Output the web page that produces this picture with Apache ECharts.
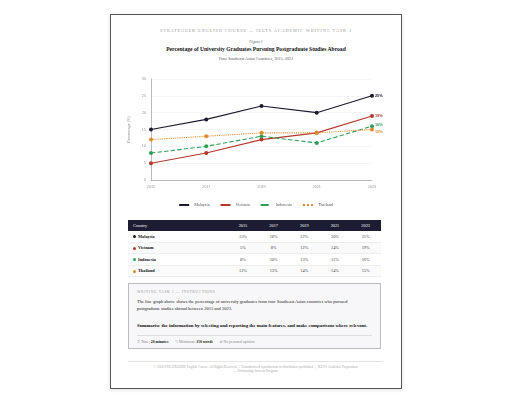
<!DOCTYPE html>
<html><head><meta charset="utf-8">
<script src="https://cdn.jsdelivr.net/npm/echarts@6/dist/echarts.min.js"></script>
<style>
html,body{margin:0;padding:0;background:#fff;width:512px;height:403px;overflow:hidden;font-family:"Liberation Serif","DejaVu Serif",serif;}
#card{position:absolute;left:110px;top:14px;width:290px;height:373px;border:1px solid #555;background:#fff;box-shadow:0 1px 4px rgba(0,0,0,0.12);}
.abs{position:absolute;}
.center{left:0;width:100%;text-align:center;}
#kicker{top:13px;font-size:4.3px;letter-spacing:0.9px;color:#999;}
#fig{top:24px;font-size:4px;color:#666;font-style:italic;}
#title{top:31px;font-size:5.6px;font-weight:bold;color:#111;}
#sub{top:41px;font-size:4.2px;color:#555;}
#chart{position:absolute;left:110px;top:64px;width:291px;height:152px;}
table{position:absolute;left:128px;top:220px;width:253px;border-collapse:collapse;font-size:4.3px;color:#444;}
th{background:#1c1c33;color:#fff;font-weight:normal;height:11px;padding:0;text-align:center;}
th.c{text-align:left;padding-left:5px;}
td{height:10.5px;padding:0;text-align:center;border-bottom:0.5px solid #eee;}
td.c{text-align:left;padding-left:5px;font-weight:bold;color:#111;}
tr.alt td{background:#fafafa;}
.dot{display:inline-block;width:3px;height:3px;border-radius:50%;margin-right:2px;vertical-align:middle;}
#box{position:absolute;left:128px;top:283px;width:253px;height:66px;background:#f7f7f9;border:0.8px solid #bbb;box-sizing:border-box;}
#box .h{position:absolute;left:8px;top:6px;font-size:3.7px;letter-spacing:0.6px;color:#999;}
#box .p{position:absolute;left:8px;top:14px;width:229px;font-size:4.5px;line-height:7px;color:#222;}
#box .b{position:absolute;left:8px;top:39px;width:240px;font-size:4.8px;font-weight:bold;color:#111;white-space:nowrap;}
#box .rule{position:absolute;left:8px;right:8px;top:50.5px;border-top:0.5px solid #ddd;}
#box .f{position:absolute;left:8px;top:55px;font-size:3.8px;color:#888;white-space:nowrap;}
#box .f b{color:#222;}
#foot{position:absolute;left:128px;top:361px;width:255px;border-top:0.5px solid #e4e4e4;padding-top:4px;font-size:3.4px;line-height:3.8px;color:#aaa;text-align:center;}
</style></head>
<body>
<div id="card">
  <div id="kicker" class="abs center">STRATEGEEK ENGLISH COURSE — IELTS ACADEMIC WRITING TASK 1</div>
  <div id="fig" class="abs center">Figure 1</div>
  <div id="title" class="abs center">Percentage of University Graduates Pursuing Postgraduate Studies Abroad</div>
  <div id="sub" class="abs center">Four Southeast Asian Countries, 2015–2023</div>
</div>
<div id="chart"></div>
<table id="tbl"></table>
<div id="box">
  <div class="h">WRITING TASK 1 — INSTRUCTIONS</div>
  <div class="p">The line graph above shows the percentage of university graduates from four Southeast Asian countries who pursued postgraduate studies abroad between 2015 and 2023.</div>
  <div class="b">Summarise the information by selecting and reporting the main features, and make comparisons where relevant.</div>
  <div class="rule"></div>
  <div class="f">⏱ Time: <b>20 minutes</b> &nbsp;&nbsp;&nbsp;&nbsp;&nbsp; ✎ Minimum: <b>150 words</b> &nbsp;&nbsp;&nbsp;&nbsp;&nbsp; ⊘ No personal opinion</div>
</div>
<div id="foot">© 2026 STRATEGEEK English Course. All Rights Reserved. &nbsp;|&nbsp; Unauthorized reproduction or distribution prohibited. &nbsp;|&nbsp; IELTS Academic Preparation<br>— Scholarship Success Program</div>
<script>
var years = ['2015','2017','2019','2021','2023'];
var countries = ['Malaysia','Vietnam','Indonesia','Thailand'];
var malaysia = [15,18,22,20,25];
var vietnam = [5,8,12,14,19];
var indonesia = [8,10,13,11,16];
var thailand = [12,13,14,14,15];
var yTicks = [0,5,10,15,20,25,30];

var values = [malaysia, vietnam, indonesia, thailand];
var colors = ['#1a1a2e','#b5382c','#2e9e5b','#e08a2e'];
var dashes = ['solid','solid','dashed','dotted'];

var tbl = document.getElementById('tbl');
var html = '<tr><th class="c">Country</th>' + years.map(function(y){return '<th>'+y+'</th>';}).join('') + '</tr>';
countries.forEach(function(c,i){
  html += '<tr class="'+(i%2===1?'alt':'')+'"><td class="c"><span class="dot" style="background:'+colors[i]+'"></span>'+c+'</td>' +
    values[i].map(function(v){return '<td>'+v+'%</td>';}).join('') + '</tr>';
});
tbl.innerHTML = html;

var chart = echarts.init(document.getElementById('chart'), null, {renderer:'canvas'});
chart.setOption({
  animation:false,
  grid:{left:41,right:29,top:15,bottom:36},
  legend:{
    bottom:4, left:'center', itemWidth:10, itemHeight:4, itemGap:10,
    textStyle:{fontSize:4.2, color:'#555', fontFamily:'Liberation Serif'},
    itemStyle:{opacity:0},
    data:countries
  },
  xAxis:{
    type:'category', data:years, boundaryGap:false,
    axisLine:{lineStyle:{color:'#aaa', width:0.8}},
    axisTick:{show:false},
    axisLabel:{fontSize:3.8, color:'#999', margin:5, fontFamily:'Liberation Sans'}
  },
  yAxis:{
    type:'value', min:yTicks[0], max:yTicks[yTicks.length-1], interval:yTicks[1]-yTicks[0],
    name:'Percentage (%)', nameLocation:'middle', nameGap:18,
    nameTextStyle:{fontSize:3.8, color:'#888', fontFamily:'Liberation Sans'},
    axisLine:{show:true, lineStyle:{color:'#aaa', width:0.8}},
    axisTick:{show:false},
    splitLine:{lineStyle:{color:'#eee', width:0.6}},
    axisLabel:{fontSize:3.8, color:'#999', margin:5, fontFamily:'Liberation Sans'}
  },
  series: countries.map(function(c,i){
    return {
      name:c, type:'line', data:values[i],
      symbol:'circle', symbolSize:4,
      itemStyle:{color:colors[i]},
      lineStyle:{color:colors[i], width:1.1, type:dashes[i]},
      endLabel:{show:true, formatter:'{c}%', fontSize:3.8, color:colors[i], distance:3, fontFamily:'Liberation Sans', fontWeight:'bold',
        offset: i===3 ? [0,2] : (i===2 ? [0,-1] : [0,0])}
    };
  })
});
</script>
</body></html>
